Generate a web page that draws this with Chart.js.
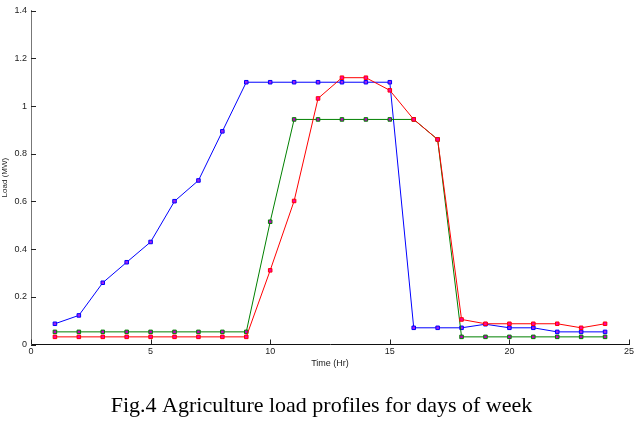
<!DOCTYPE html>
<html>
<head>
<meta charset="utf-8">
<title>Agriculture load profiles</title>
<script src="https://cdn.jsdelivr.net/npm/chart.js@4"></script>
<style>
  html, body { margin: 0; padding: 0; background: #fff; }
  #wrap { width: 643px; height: 431px; }
</style>
</head>
<body>
<div id="wrap"><canvas id="loadChart" width="643" height="431"></canvas></div>
<script>
// hours of the day
const hours = [1, 2, 3, 4, 5, 6, 7, 8, 9, 10, 11, 12, 13, 14, 15, 16, 17, 18, 19, 20, 21, 22, 23, 24];

// load in MW
const blueLoad = [0.087, 0.122, 0.259, 0.345, 0.430, 0.601, 0.688, 0.894, 1.10, 1.10, 1.10, 1.10,
  1.10, 1.10, 1.10, 0.070, 0.070, 0.070, 0.085, 0.070, 0.070, 0.053, 0.053, 0.053];
const greenLoad = [0.053, 0.053, 0.053, 0.053, 0.053, 0.053, 0.053, 0.053, 0.053, 0.515, 0.944, 0.944,
  0.944, 0.944, 0.944, 0.944, 0.860, 0.032, 0.032, 0.032, 0.032, 0.032, 0.032, 0.032];
const redLoad = [0.032, 0.032, 0.032, 0.032, 0.032, 0.032, 0.032, 0.032, 0.032, 0.311, 0.602, 1.032,
  1.119, 1.119, 1.066, 0.944, 0.860, 0.105, 0.087, 0.087, 0.087, 0.087, 0.070, 0.087];

const xTicks = [0, 5, 10, 15, 20, 25];
const yTicks = [0, 0.2, 0.4, 0.6, 0.8, 1, 1.2, 1.4];

const caption = 'Fig.4 Agriculture load profiles for days of week';

function toPoints(values) {
  return hours.map((h, i) => ({ x: h, y: values[i] }));
}

function series(values, line, fill) {
  return {
    data: toPoints(values),
    borderColor: line,
    borderWidth: 1,
    pointStyle: 'rect',
    pointRadius: 2.5,
    pointBorderWidth: 1,
    pointBorderColor: line,
    pointBackgroundColor: fill,
    tension: 0,
    fill: false
  };
}

// tick marks pointing into the plot, like the matlab figure
const innerTicks = {
  id: 'innerTicks',
  afterDraw(chart) {
    const ctx = chart.ctx;
    const xs = chart.scales.x;
    const ys = chart.scales.y;
    const area = chart.chartArea;
    ctx.save();
    ctx.strokeStyle = '#222';
    ctx.lineWidth = 1;
    ctx.beginPath();
    xTicks.forEach(v => {
      const px = Math.round(xs.getPixelForValue(v)) + 0.5;
      ctx.moveTo(px, area.bottom);
      ctx.lineTo(px, area.bottom - 5);
    });
    yTicks.forEach(v => {
      const py = Math.round(ys.getPixelForValue(v)) + 0.5;
      ctx.moveTo(area.left, py);
      ctx.lineTo(area.left + 5, py);
    });
    ctx.stroke();
    ctx.restore();
  }
};

const tickFont = { family: 'Liberation Sans', size: 9 };

new Chart(document.getElementById('loadChart'), {
  type: 'line',
  data: {
    // first dataset is drawn last, so red ends up on top like the original
    datasets: [
      series(redLoad, '#ff0000', '#ff00a0'),
      series(greenLoad, '#008000', '#c000c0'),
      series(blueLoad, '#0000ff', '#a020f0')
    ]
  },
  options: {
    responsive: false,
    animation: false,
    layout: { padding: { left: 14, top: 10.7, right: 14, bottom: 0 } },
    plugins: {
      legend: { display: false },
      tooltip: { enabled: false },
      title: {
        display: true,
        position: 'bottom',
        text: caption,
        color: '#000',
        font: { family: 'Liberation Serif', size: 22, weight: 'normal' },
        padding: { top: 0, bottom: 12 }
      }
    },
    scales: {
      x: {
        type: 'linear',
        min: 0,
        max: 25,
        afterBuildTicks(scale) { scale.ticks = xTicks.map(v => ({ value: v })); },
        afterFit(scale) { scale.height = 48.1; },
        grid: { display: true, drawOnChartArea: false, drawTicks: false },
        border: { display: true, color: '#111', width: 1 },
        ticks: { color: '#222', font: tickFont, padding: 2, maxRotation: 0 },
        title: {
          display: true,
          text: 'Time (Hr)',
          color: '#222',
          font: tickFont,
          padding: { top: 0, bottom: 23.6 }
        }
      },
      y: {
        type: 'linear',
        min: 0,
        max: 1.4,
        afterBuildTicks(scale) { scale.ticks = yTicks.map(v => ({ value: v })); },
        afterFit(scale) { scale.width = 17; },
        grid: { display: true, drawOnChartArea: false, drawTicks: false },
        border: { display: true, color: '#777', width: 1 },
        ticks: { color: '#222', font: tickFont, padding: 4, callback: v => String(v) },
        title: {
          display: true,
          text: 'Load (MW)',
          color: '#222',
          font: { family: 'Liberation Sans', size: 8 },
          padding: { top: -14, bottom: 0 }
        }
      }
    }
  },
  plugins: [innerTicks]
});
</script>
</body>
</html>
